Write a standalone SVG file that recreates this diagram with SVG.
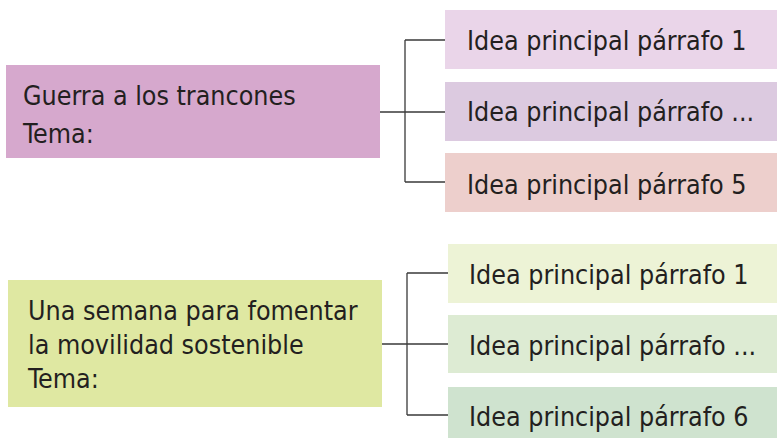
<svg xmlns="http://www.w3.org/2000/svg" width="777" height="438" viewBox="0 0 777 438">
<style>
text{font-family:"DejaVu Sans Condensed","Liberation Sans Narrow","Liberation Sans",sans-serif;font-size:26.6px;fill:#231f20}
.c{fill:none;stroke:#3a3a3a;stroke-width:1.3}
</style>
<rect width="777" height="438" fill="#ffffff"/>
<g id="conn">
<path class="c" d="M380 112H445M405 40V182M405 40H445M405 182H445"/>
<path class="c" d="M382 344H448M407 273V415M407 273H448M407 415H448"/>
</g>
<g id="tema1"><rect x="6" y="65" width="374" height="93" fill="#d6a8cd"/><text x="23" y="105">Guerra a los trancones</text><text x="23" y="143">Tema:</text></g>
<g id="t1i1"><rect x="445" y="10" width="332" height="59" fill="#ead5e9"/><text x="467" y="50">Idea principal párrafo 1</text></g>
<g id="t1i2"><rect x="445" y="82" width="332" height="59" fill="#dccae0"/><text x="467" y="121">Idea principal párrafo ...</text></g>
<g id="t1i3"><rect x="445" y="153" width="332" height="59" fill="#edcfcc"/><text x="467" y="194">Idea principal párrafo 5</text></g>
<g id="tema2"><rect x="8" y="280" width="374" height="127" fill="#dfe8a2"/><text x="28" y="320">Una semana para fomentar</text><text x="28" y="354">la movilidad sostenible</text><text x="28" y="388">Tema:</text></g>
<g id="t2i1"><rect x="448" y="244" width="329" height="59" fill="#edf3d6"/><text x="469" y="284">Idea principal párrafo 1</text></g>
<g id="t2i2"><rect x="448" y="315" width="329" height="58" fill="#ddebd3"/><text x="469" y="355">Idea principal párrafo ...</text></g>
<g id="t2i3"><rect x="448" y="387" width="329" height="51" fill="#cfe3cf"/><text x="469" y="426">Idea principal párrafo 6</text></g>
</svg>
